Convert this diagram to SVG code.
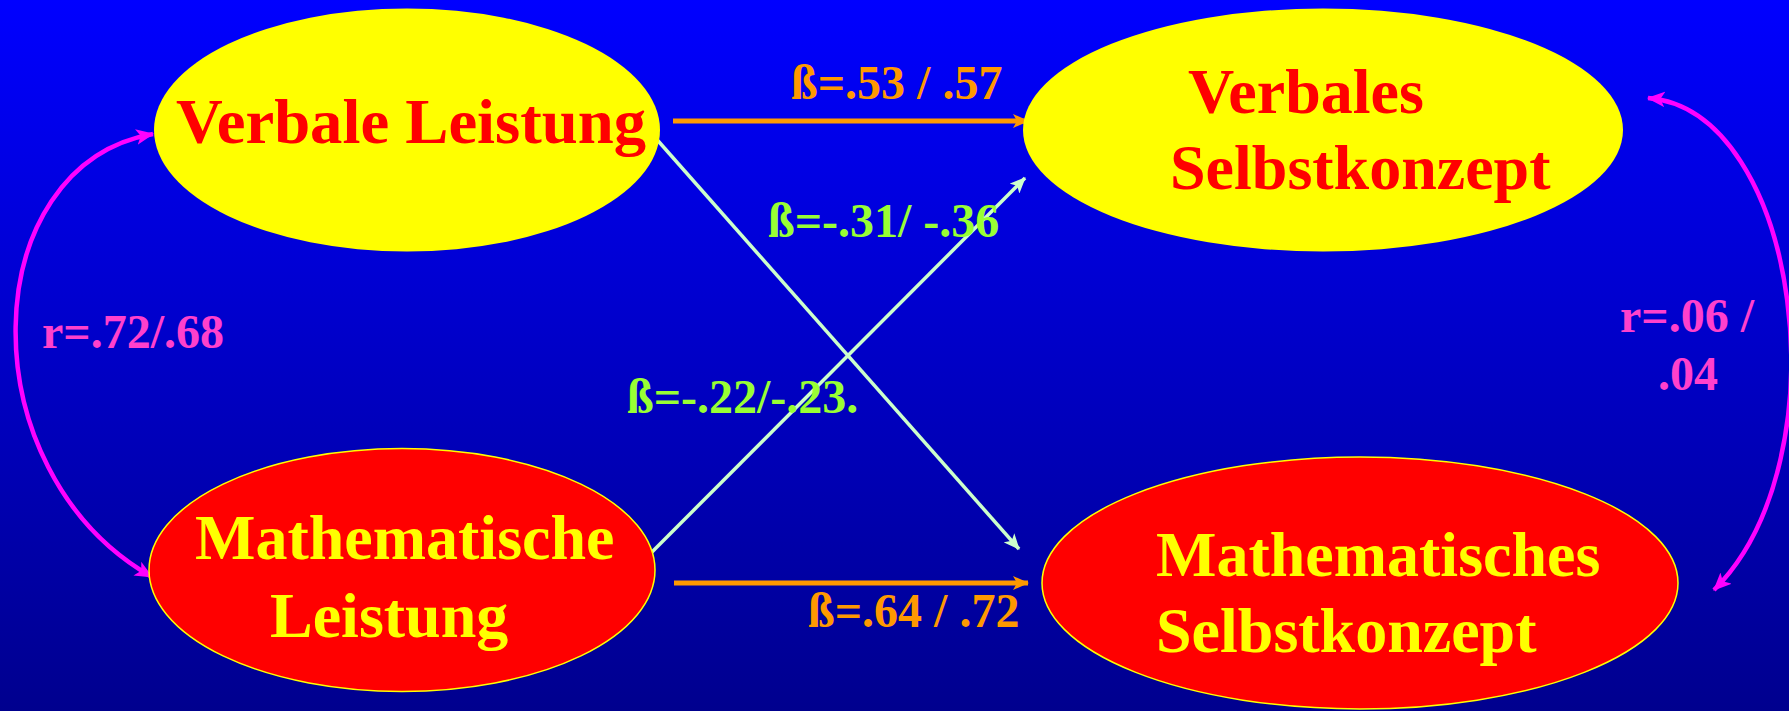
<svg xmlns="http://www.w3.org/2000/svg" width="1789" height="711" viewBox="0 0 1789 711">
<defs>
<linearGradient id="bg" x1="0" y1="0" x2="0" y2="1">
<stop offset="0" stop-color="#0000FF"/>
<stop offset="1" stop-color="#00008E"/>
</linearGradient>
<marker id="aO" viewBox="0 0 16 14" refX="15" refY="7" markerWidth="16" markerHeight="14" markerUnits="userSpaceOnUse" orient="auto"><path d="M0,0 L16,7 L0,14 L4,7 z" fill="#FF9900"/></marker>
<marker id="aG" viewBox="0 0 16 14" refX="15" refY="7" markerWidth="16" markerHeight="14" markerUnits="userSpaceOnUse" orient="auto"><path d="M0,0 L16,7 L0,14 L4,7 z" fill="#CCFFCC"/></marker>
<marker id="aM" viewBox="0 0 16 14" refX="15" refY="7" markerWidth="18" markerHeight="16" markerUnits="userSpaceOnUse" orient="auto"><path d="M0,0 L16,7 L0,14 L4,7 z" fill="#FF00FF"/></marker>
<marker id="aMs" viewBox="0 0 16 14" refX="15" refY="7" markerWidth="18" markerHeight="16" markerUnits="userSpaceOnUse" orient="auto-start-reverse"><path d="M0,0 L16,7 L0,14 L4,7 z" fill="#FF00FF"/></marker>
</defs>
<style>
.node{font-family:"Liberation Serif","Times New Roman",serif;font-weight:bold;font-size:64px}
.lbl{font-family:"Liberation Serif","Times New Roman",serif;font-weight:bold;font-size:48px}
.yel{fill:#FFFF00}
.red{fill:#FF0000}
.orange{fill:#FF9900}
.green{fill:#99FF33}
.pink{fill:#FF40CC}
.cOr{stroke:#FF9900;stroke-width:5;fill:none}
.cGr{stroke:#CCFFCC;stroke-width:3.5;fill:none}
.cMg{stroke:#FF00FF;stroke-width:4.5;fill:none}
</style>
<rect x="0" y="0" width="1789" height="711" fill="url(#bg)"/>

<g id="connectors">
<line class="cOr" x1="673" y1="121" x2="1028" y2="121" marker-end="url(#aO)"/>
<line class="cOr" x1="674" y1="583" x2="1028" y2="583" marker-end="url(#aO)"/>
<line class="cGr" x1="652" y1="134" x2="1019" y2="549" marker-end="url(#aG)"/>
<line class="cGr" x1="652" y1="552" x2="1025" y2="178" marker-end="url(#aG)"/>
<path class="cMg" d="M 153 134 C -25 165, -35 470, 152 577" marker-start="url(#aMs)" marker-end="url(#aM)"/>
<path class="cMg" d="M 1648 98 C 1800 110, 1845 460, 1714 590" marker-start="url(#aMs)" marker-end="url(#aM)"/>
</g>

<g id="node-verbale-leistung">
<ellipse cx="407" cy="130" rx="253" ry="121.5" fill="#FFFF00"/>
<text class="node red" x="176" y="143" textLength="470" lengthAdjust="spacingAndGlyphs">Verbale Leistung</text>
</g>

<g id="node-verbales-selbstkonzept">
<ellipse cx="1323" cy="130" rx="300" ry="121.5" fill="#FFFF00"/>
<text class="node red" x="1188" y="113">Verbales</text>
<text class="node red" x="1170" y="189">Selbstkonzept</text>
</g>

<g id="node-mathematische-leistung">
<ellipse cx="402" cy="570" rx="253" ry="121.5" fill="#FF0000" stroke="#FFFF00" stroke-width="1.5"/>
<text class="node yel" x="195" y="559">Mathematische</text>
<text class="node yel" x="270" y="637">Leistung</text>
</g>

<g id="node-mathematisches-selbstkonzept">
<ellipse cx="1360" cy="583" rx="318" ry="126" fill="#FF0000" stroke="#FFFF00" stroke-width="1.5"/>
<text class="node yel" x="1156" y="576">Mathematisches</text>
<text class="node yel" x="1156" y="652">Selbstkonzept</text>
</g>

<g id="labels">
<text class="lbl orange" x="791" y="99">ß=.53 / .57</text>
<text class="lbl green" x="768" y="237">ß=-.31/ -.36</text>
<text class="lbl green" x="627" y="413">ß=-.22/-.23.</text>
<text class="lbl orange" x="808" y="627">ß=.64 / .72</text>
<text class="lbl pink" x="42" y="348">r=.72/.68</text>
<text class="lbl pink" x="1620" y="332">r=.06 /</text>
<text class="lbl pink" x="1658" y="390">.04</text>
</g>
</svg>
